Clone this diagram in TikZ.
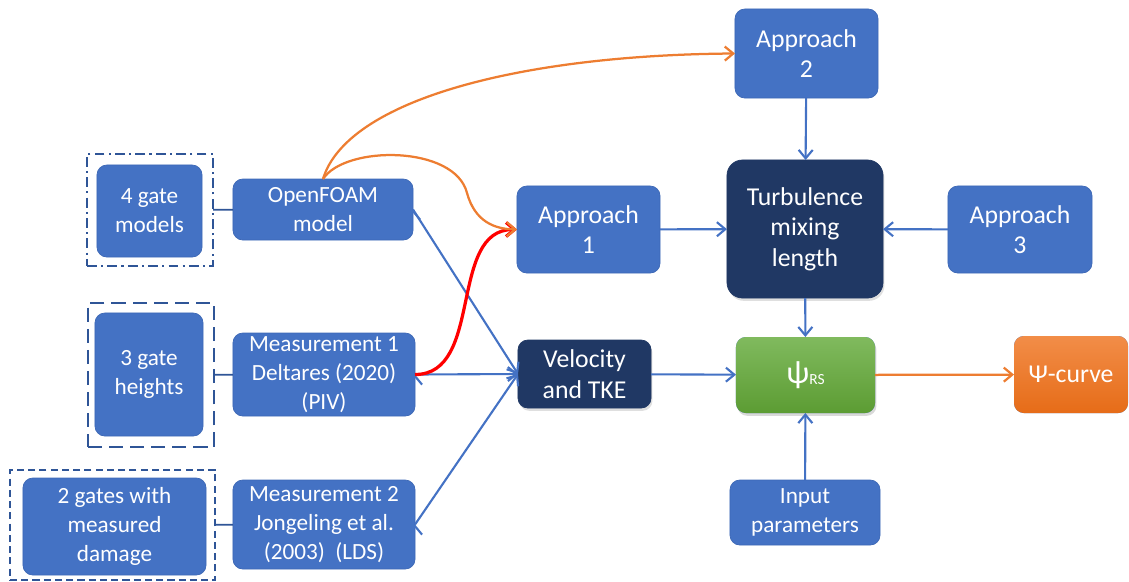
\documentclass[tikz,border=0pt]{standalone}
\usepackage{fontspec}
\setmainfont{Carlito}
\usetikzlibrary{arrows.meta,shadows}
\definecolor{boxblue}{HTML}{4472C4}
\definecolor{boxedge}{HTML}{3D68B6}
\definecolor{navy}{HTML}{203864}
\definecolor{frameblue}{HTML}{2F5597}
\definecolor{arrblue}{HTML}{4472C4}
\definecolor{arrorange}{HTML}{ED7D31}
\definecolor{greentop}{HTML}{80BA5E}
\definecolor{greenbot}{HTML}{5C9C33}
\definecolor{orangetop}{HTML}{F28D48}
\definecolor{orangebot}{HTML}{E66C18}
\newcommand{\boxsmallfont}{\fontsize{16.5}{20.6}\selectfont}
\newcommand{\boxlargefont}{\fontsize{18.3}{21.8}\selectfont}

\begin{document}
\begin{tikzpicture}[x=0.025cm, y=-0.025cm,
      box/.style={rectangle, rounded corners=7pt, fill=boxblue, draw=boxedge, line width=0.5pt, text=white, align=center, inner sep=0pt, outer sep=0pt, font=\boxsmallfont},
      bigbox/.style={box, font=\boxlargefont},
      darkbox/.style={bigbox, fill=navy, draw=navy, drop shadow={opacity=0.25, shadow xshift=1pt, shadow yshift=-2pt}},
      gateframe/.style={rectangle, draw=frameblue, line width=1.6pt, inner sep=0pt, outer sep=0pt},
      pfeil/.style={-{Straight Barb[length=6pt,width=10pt]}, draw=arrblue, line width=1.5pt},
      opfeil/.style={pfeil, draw=arrorange, line width=1.6pt},
      rpfeil/.style={pfeil, draw=red, line width=2.3pt},
      link/.style={draw=frameblue, line width=1.2pt}]
\useasboundingbox (0,0) rectangle (1129,581);

% left column: gate sets
\node[gateframe, minimum width=3.15cm, minimum height=2.8cm, dash pattern=on 7pt off 3pt on 1.5pt off 3pt] (gmfr) at (150,210) {};
\node[box, minimum width=2.625cm, minimum height=2.3cm] (gm4) at (149.5,211) {4 gate\\models};
\node[gateframe, minimum width=3.15cm, minimum height=3.6cm, dash pattern=on 10pt off 5pt] (ghfr) at (151,375) {};
\node[box, minimum width=2.7cm, minimum height=3.075cm] (gh3) at (149,374.5) {3 gate\\heights};
\node[gateframe, minimum width=5.125cm, minimum height=2.75cm, dash pattern=on 5pt off 3pt] (gdfr) at (112.5,525) {};
\node[box, minimum width=4.575cm, minimum height=2.425cm] (gd2) at (114.5,526.5) {2 gates with\\measured\\damage};

% sources
\node[box, minimum width=4.5cm, minimum height=1.525cm] (ofm) at (323,209.5) {OpenFOAM\\model};
\node[box, minimum width=4.55cm, minimum height=2.075cm] (ms1) at (324,374.5) {Measurement 1\\Deltares (2020)\\(PIV)};
\node[box, minimum width=4.55cm, minimum height=2.225cm] (ms2) at (324,524.5) {Measurement 2\\Jongeling et al.\\(2003)~~(LDS)};

% approaches
\node[bigbox, minimum width=3.575cm, minimum height=2.175cm] (ap1) at (588.5,229.5) {Approach\\1};
\node[bigbox, minimum width=3.575cm, minimum height=2.225cm] (ap2) at (806.5,53.5) {Approach\\2};
\node[bigbox, minimum width=3.6cm, minimum height=2.175cm] (ap3) at (1020,229.5) {Approach\\3};
\node[darkbox, minimum width=3.325cm, minimum height=1.7cm] (vtk) at (584.5,374) {Velocity\\and TKE};
\node[darkbox, rounded corners=11pt, minimum width=3.9cm, minimum height=3.45cm] (tml) at (805,229) {Turbulence\\mixing\\length};

% result
\node[bigbox, draw=none, top color=greentop, bottom color=greenbot, minimum width=3.475cm, minimum height=1.9cm, drop shadow={opacity=0.3, shadow xshift=1pt, shadow yshift=-2pt}] (psi) at (805.5,375) {{\fontsize{23}{23}\selectfont ψ}\raisebox{-0.5pt}{\fontsize{11}{11}\selectfont RS}};
\node[bigbox, draw=none, top color=orangetop, bottom color=orangebot, minimum width=2.85cm, minimum height=1.925cm] (psc) at (1071,374.5) {Ψ-curve};
\node[box, minimum width=3.75cm, minimum height=1.625cm] (inp) at (805,512.5) {Input\\parameters};

% connectors
\draw[link] (gmfr) edge (ofm);
\draw[link] (ghfr) edge (ms1);
\draw[link] (gdfr) edge (ms2);
\draw[pfeil] (ofm.east) edge (vtk.west);
\draw[pfeil] (ms1.east) edge (vtk.west);
\draw[pfeil] (ms2.east) edge (vtk.west);
\draw[rpfeil] (ms1.east) to[out=0, in=180] (ap1.west);
\draw[opfeil] (ofm.north) .. controls (345,145) and (455,145) .. (467,193) .. controls (475,222) and (495,229) .. (ap1.west);
\draw[opfeil] (ofm.north) .. controls (347,100) and (520,55) .. (ap2.west);
\draw[pfeil] (ap1) edge (tml);
\draw[pfeil] (ap3) edge (tml);
\draw[pfeil] (ap2) edge (tml);
\draw[pfeil] (tml) edge (psi);
\draw[pfeil] (vtk) edge (psi);
\draw[pfeil] (inp) edge (psi);
\draw[opfeil] (psi) edge (psc);

\end{tikzpicture}
\end{document}
